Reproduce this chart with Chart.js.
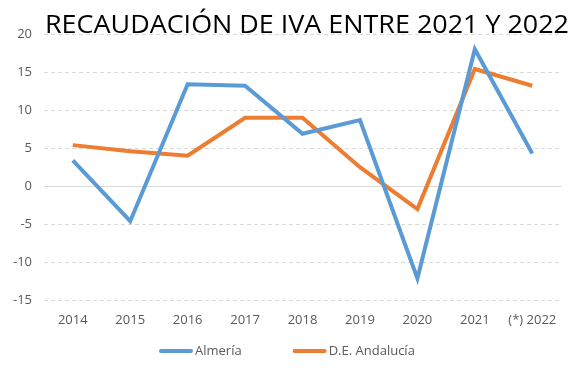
<!DOCTYPE html>
<html>
<head>
<meta charset="utf-8">
<script src="https://cdn.jsdelivr.net/npm/chart.js@4"></script>
<style>
  html, body { margin: 0; padding: 0; background: #fff; }
  #wrap { width: 584px; height: 371px; }
</style>
</head>
<body>
<div id="wrap"><canvas id="ivaChart" width="584" height="371"></canvas></div>
<script>
let years = ['2014', '2015', '2016', '2017', '2018', '2019', '2020', '2021', '(*) 2022'];
let almeria = [3.4, -4.6, 13.4, 13.2, 6.9, 8.7, -12.1, 18.0, 4.3];
let andalucia = [5.4, 4.6, 4.0, 9.0, 9.0, 2.5, -3.0, 15.4, 13.2];
let yTicks = [-15, -10, -5, 0, 5, 10, 15, 20];
let titleText = 'RECAUDACIÓN DE IVA ENTRE 2021 Y 2022';

let tickFont = { family: 'Open Sans', size: 13 };

// title sits over the top of the plot, so draw it by hand
let titlePlugin = {
    id: 'overTitle',
    afterDraw(chart) {
        let ctx = chart.ctx;
        ctx.save();
        ctx.font = '26px "Open Sans"';
        let w = ctx.measureText(titleText).width;
        ctx.translate(45, 33);
        ctx.scale(524 / w, 1);
        ctx.fillStyle = '#000';
        ctx.textBaseline = 'alphabetic';
        ctx.fillText(titleText, 0, 0);
        ctx.restore();
    }
};

// legend like the Excel one: short thick line, text right next to it
let legendPlugin = {
    id: 'lineLegend',
    afterDraw(chart) {
        let ctx = chart.ctx;
        ctx.save();
        ctx.font = '13px "Open Sans"';
        ctx.textBaseline = 'middle';
        let x = 161;
        let y = 351;
        chart.data.datasets.forEach(ds => {
            ctx.strokeStyle = ds.borderColor;
            ctx.lineWidth = 4;
            ctx.lineCap = 'round';
            ctx.beginPath();
            ctx.moveTo(x, y);
            ctx.lineTo(x + 30, y);
            ctx.stroke();
            x += 34;
            ctx.fillStyle = '#595959';
            ctx.fillText(ds.label, x, y);
            x += ctx.measureText(ds.label).width + 53;
        });
        ctx.restore();
    }
};

let config = {
    type: 'line',
    data: {
        labels: years,
        datasets: [{
            label: 'Almería',
            data: almeria,
            borderColor: '#5b9bd5',
            borderWidth: 4,
            pointRadius: 0,
            tension: 0
        }, {
            label: 'D.E. Andalucía',
            data: andalucia,
            borderColor: '#ed7d31',
            borderWidth: 4,
            pointRadius: 0,
            tension: 0
        }]
    },
    options: {
        responsive: false,
        animation: false,
        layout: { padding: { top: 34, right: 23, left: 1, bottom: 31 } },
        scales: {
            x: {
                offset: true,
                grid: { display: false, drawTicks: false },
                border: { display: false },
                ticks: { color: '#595959', font: tickFont, padding: 12, maxRotation: 0, autoSkip: false }
            },
            y: {
                min: -15,
                max: 20,
                afterBuildTicks: axis => { axis.ticks = yTicks.map(v => ({ value: v })); },
                grid: {
                    color: '#d9d9d9',
                    lineWidth: 1,
                    drawTicks: false
                },
                border: {
                    display: false,
                    dash: ctx => (ctx.tick && ctx.tick.value === 0) ? [] : [4, 3]
                },
                ticks: { color: '#595959', font: tickFont, padding: 12 }
            }
        },
        plugins: {
            title: { display: false },
            tooltip: { enabled: false },
            legend: { display: false }
        }
    },
    plugins: [titlePlugin, legendPlugin]
};

let chart = new Chart(document.getElementById('ivaChart'), config);
</script>
</body>
</html>
